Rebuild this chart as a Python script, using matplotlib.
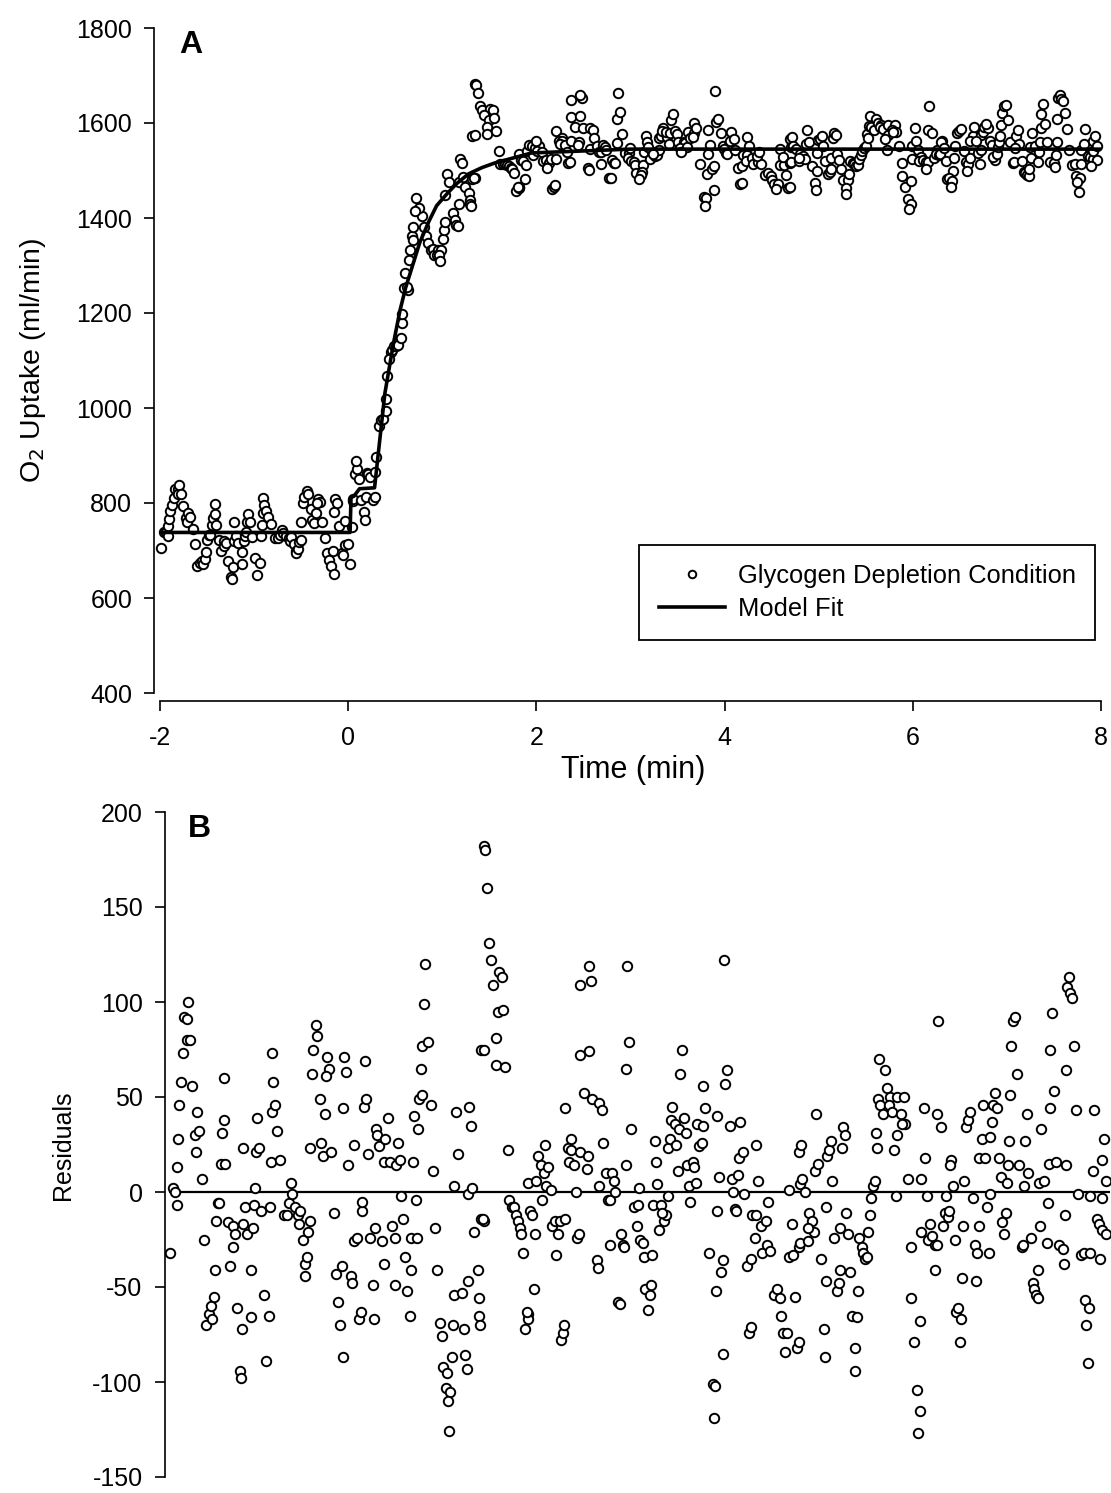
import numpy as np
import matplotlib
matplotlib.use("Agg")
import matplotlib.pyplot as plt

plt.rcParams['font.family'] = ['Liberation Sans', 'DejaVu Sans']
plt.rcParams['axes.unicode_minus'] = False

# model fit (time in min, VO2 in ml/min)
fit_time = [-2.0, 0.02, 0.03, 0.06, 0.12, 0.28, 0.35, 0.39, 0.48, 0.55, 0.61, 0.70,
            0.76, 0.86, 0.94, 1.05, 1.15, 1.28, 1.42, 1.56, 1.95, 3.0, 8.0]
fit_vo2 = [738, 738, 812, 814, 830, 832, 959, 1031, 1135, 1205, 1253, 1310,
           1348, 1394, 1426, 1451, 1472, 1493, 1506, 1516, 1537, 1545, 1545]

# breath-by-breath residuals (observed - fit)
breath_time = [
    -1.99, -1.96, -1.94, -1.92, -1.91, -1.90, -1.89, -1.87, -1.85, -1.84, -1.81, -1.81,
    -1.80, -1.78, -1.76, -1.72, -1.71, -1.70, -1.68, -1.65, -1.63, -1.61, -1.58, -1.55,
    -1.54, -1.52, -1.51, -1.50, -1.48, -1.47, -1.45, -1.44, -1.42, -1.42, -1.40, -1.37,
    -1.35, -1.32, -1.32, -1.30, -1.28, -1.25, -1.23, -1.22, -1.21, -1.21, -1.19, -1.17,
    -1.13, -1.13, -1.11, -1.10, -1.09, -1.08, -1.07, -1.04, -1.02, -0.99, -0.97, -0.94,
    -0.93, -0.92, -0.91, -0.89, -0.91, -0.87, -0.85, -0.825, -0.78, -0.75, -0.73, -0.70,
    -0.69, -0.66, -0.63, -0.62, -0.61, -0.58, -0.56, -0.55, -0.53, -0.52, -0.50, -0.50,
    -0.48, -0.47, -0.44, -0.43, -0.40,
    -0.383, -0.36, -0.28, -0.344, -0.32, -0.30, -0.33, -0.25, -0.23, -0.16, -0.20, -0.18,
    -0.15, -0.15, -0.14, -0.12, -0.10, -0.07, -0.05, -0.03, -0.03, 0.00, 0.02, 0.04,
    0.05, 0.05, 0.07, 0.09, 0.08, 0.12, 0.14, 0.19, 0.17, 0.18, 0.20, 0.21,
    0.23, 0.26, 0.29, 0.30, 0.33, 0.29, 0.35, 0.41, 0.45, 0.37, 0.40, 0.40,
    0.43, 0.47, 0.49, 0.51, 0.53, 0.56, 0.57, 0.57, 0.64, 0.59, 0.60, 0.62,
    0.65, 0.68, 0.66, 0.69, 0.78, 0.69, 0.75, 0.71, 0.72, 0.81, 0.83, 0.85,
    0.88, 0.90, 0.91, 0.95, 0.94, 0.99, 0.97, 0.98, 1.01, 1.02, 1.03, 1.05,
    1.07, 1.03, 1.11, 1.13, 1.15, 1.17, 1.18, 1.18, 1.22, 1.19, 1.21, 1.24,
    1.28, 1.29, 1.29, 1.32, 1.32,
    1.35, 1.36, 1.38, 1.40, 1.42, 1.51, 1.54, 1.44, 1.50, 1.55, 1.47, 1.35,
    1.48, 1.57, 1.35, 1.34, 1.31, 1.60, 1.61, 1.65, 1.67, 1.69, 1.71, 1.73,
    1.74, 1.76, 1.78, 1.81, 1.82, 1.80, 1.82, 1.84, 1.86, 1.88, 1.89, 1.90,
    1.92, 1.95, 1.99, 2.03, 2.00, 1.96, 2.01, 2.06, 2.07, 2.10, 2.13, 2.15,
    2.21, 2.11, 2.17, 2.19, 2.20, 2.21, 2.27, 2.24, 2.27, 2.25, 2.30, 2.32,
    2.34, 2.36, 2.37, 2.48, 2.46, 2.37, 2.46, 2.41, 2.37, 2.45, 2.44, 2.50,
    2.57, 2.60, 2.55, 2.56, 2.57, 2.61, 2.64, 2.71, 2.67, 2.69, 2.69, 2.73,
    2.74, 2.77, 2.79, 2.80, 2.82, 2.84, 2.86, 2.86, 2.87, 2.89, 2.91, 2.94,
    2.98, 2.99, 2.97, 3.00,
    3.04, 3.05, 3.13, 3.06, 3.12, 3.11, 3.09, 3.14, 3.23, 3.16, 3.18, 3.19,
    3.21, 3.26, 3.28, 3.30, 3.24, 3.30, 3.32, 3.39, 3.35, 3.33, 3.38, 3.42,
    3.47, 3.49, 3.41, 3.43, 3.45, 3.51, 3.57, 3.58, 3.53, 3.60, 3.54, 3.61,
    3.67, 3.63, 3.66, 3.68, 3.70, 3.74, 3.78, 3.80, 3.79, 3.81, 3.82, 3.82,
    3.84, 3.87, 3.89, 3.89, 3.90, 3.91, 3.93, 3.96, 4.07, 3.98, 4.05, 3.99,
    4.02, 4.03, 4.06, 4.10, 4.11, 4.14, 4.19, 4.16, 4.19, 4.20, 4.24, 4.23,
    4.24, 4.26, 4.29, 4.30, 4.35, 4.39, 4.34, 4.37, 4.43, 4.46, 4.49, 4.50,
    4.53, 4.57, 4.55, 4.59, 4.63, 4.59, 4.62, 4.65, 4.67, 4.69, 4.69, 4.69,
    4.71,
    4.72, 4.73, 4.71, 4.79, 4.76, 4.80, 4.83, 4.85, 4.79, 4.87, 4.90, 4.93,
    4.96, 4.97, 4.98, 4.98, 4.99, 5.01, 5.03, 5.05, 5.07, 5.13, 5.10, 5.12,
    5.13, 5.24, 5.15, 5.16, 5.18, 5.19, 5.22, 4.88, 5.26, 5.31, 5.29, 5.29,
    5.32, 5.33, 5.36, 5.38, 5.40, 5.42, 5.43, 5.45, 5.46, 5.48, 5.50, 5.51,
    5.52, 5.53, 5.55, 5.61, 5.56, 5.59, 5.63, 5.66, 5.65, 5.68, 5.74, 5.81,
    5.78, 5.82, 5.74, 5.70, 5.73, 5.79, 5.85, 5.88, 5.89, 5.92, 5.95, 5.98,
    5.96, 5.98, 5.99, 6.02, 6.03, 6.06, 5.99, 6.09, 6.07, 6.11, 6.14, 6.16,
    6.14, 6.17, 6.16, 6.20, 6.23, 6.26, 6.25, 6.28, 6.29, 6.31, 6.30, 6.33,
    6.35, 6.36,
    6.45, 6.47, 6.49, 6.51, 6.44, 6.43, 6.39, 6.42, 6.41, 6.54, 6.57, 6.59,
    6.71, 6.58, 6.61, 6.64, 6.73, 6.61, 6.67, 6.65, 6.75, 6.76, 6.80, 6.78,
    6.69, 6.73, 6.82, 6.84, 6.87, 6.85, 6.90, 6.91, 6.92, 6.93, 6.94, 6.95,
    6.97, 6.99, 7.01, 7.03, 7.06, 7.08, 7.10, 7.12, 7.13, 7.16, 7.09, 7.18,
    7.19, 7.21, 7.23, 7.24, 7.26, 7.25, 7.30, 7.27, 7.33, 7.34, 7.35, 7.43,
    7.53, 7.36, 7.36, 7.38, 7.41, 7.46, 7.50, 7.51, 7.52, 7.53, 7.54, 7.56,
    7.57, 7.60, 7.62, 7.64, 7.66, 7.69, 7.72, 7.79, 7.73, 7.78, 7.74, 7.77,
    7.79, 7.82, 7.83, 7.86, 7.88, 7.91, 7.96, 7.89, 7.91, 7.92, 7.94, 7.96,
]
residual = [
    -32, 2, 0, -7, 13, 28, 46, 58, 73, 92, 91, 80,
    100, 80, 56, 30, 21, 42, 32, 7, -25, -70, -64, -60,
    -67, -55, -41, -15, -6, -6, 15, 31, 38, 60, 15, -16,
    -39, -18, -29, -22, -61, -94, -98, -72, 23, -17, -8, -22,
    -66, -41, -19, -7, 2, 21, 39, 23, -10, -54, -89, -65,
    -8, 16, 73, 58, 42, 46, 32, 17, -12, -12, -6, 5,
    -1, -8, -12, -17, -10, -25, -38, -44, -34, -21, -15, 23,
    62, 75, 88, 82, 49,
    26, 19, 21, 41, 71, 65, 61, -11, -43, -39, -58, -70,
    -87, 44, 71, 63, 14, -44, -48, 25, -26, -24, -67, -63,
    -10, -5, 45, 49, 69, 20, -24, -19, -49, -67, 33, 30,
    24, -26, -38, 28, 39, 16, 16, 14, 17, -18, -49, -24,
    26, -2, -14, -34, -52, -65, -41, -24, -24, 16, 40, -4,
    33, 65, 49, 51, 46, 77, 79, 99, 120, 11, -19, -41,
    -69, -76, -92, -95, -103, -105, -110, -126, -87, -70, 3, 42,
    20, -54, -53, -72, -86, -93, -47, -1, 2, 45, 35, -21,
    -41, -56, -65, 75, -14,
    182, 180, 160, 131, 122, 116, 113, 109, 95, 96, 81, 75,
    67, 66, -15, -14, -70, 22, -4, -8, -8, -12, -15, -19,
    -22, -32, -72, -64, -67, -63, 5, -10, -12, -51, -22, 6,
    19, 14, 10, 13, 25, -4, 3, 1, -18, -15, -22, -15,
    -14, -33, -78, -74, -70, 44, 28, 23, 22, 16, 14, 0,
    -24, -22, 109, 111, 119, 72, 74, 52, 21, 19, 12, 49,
    47, 43, -36, -40, 3, 26, 10, 10, -4, -4, -28, 6,
    0, -58, -59, -22, -28, -29, 14, 65, 119, 79, 33, -8,
    -7, 2, -18, -25,
    -27, -34, -33, -51, -49, -54, -62, -7, -7, 27, 16, 4,
    -20, -15, -12, -2, -11, 23, 28, 25, 45, 38, 36, 33,
    39, 31, 11, 62, 75, 14, 16, 13, 3, 5, -5, 36,
    35, 24, 26, 56, 44, -32, -101, -102, -119, -52, 40, -10,
    8, -42, -36, -85, 122, 57, 64, 35, 37, 7, 9, 0,
    -9, -10, 18, 21, -1, -39, -35, -74, -71, -12, -12, -24,
    25, 6, -18, -32, -28, -31, -15, -5, -54, -51, -56, -65,
    -74, -74, -84, -34, -33, 1, -17, -55, -82, -79, 21, -29,
    4,
    25, 7, -27, -26, 0, -11, -15, -21, -19, 11, 15, -35,
    -72, -87, -8, -47, 19, 22, 27, 6, -24, -19, -52, -48,
    -41, -42, 23, 34, 30, -11, -22, 41, -65, -66, -82, -94,
    -52, -24, -29, -32, -35, -34, -21, -12, -3, 3, 6, 31,
    23, 49, 70, 64, 46, 41, 55, 50, 46, 42, 50, 50,
    41, 36, 30, 22, -2, 36, 7, -29, -56, -79, -104, -115,
    -127, -68, 7, 44, 18, -2, -21, -17, -25, -23, -28, -28,
    -41, 90, 41, 34, -18, -2, -11, -13, -10, 17, 14, 3,
    -25, -63,
    6, 34, 38, 42, -18, -45, -61, -67, -79, -3, -28, -32,
    -32, -47, -18, 28, 29, 18, 18, 46, 37, 46, 44, 52,
    -8, -1, 18, 8, -22, -16, -11, 5, 14, 27, 51, 77,
    90, 92, 62, 14, -29, -28, 27, 41, 10, -24, 3, -48,
    -51, -54, -56, -41, -18, 5, 6, 33, -27, -6, 15, 16,
    14, 44, 75, 94, 53, -28, -30, -38, -12, 64, 108, 113,
    105, 102, 77, 43, -1, -33, -32, -32, -57, -61, -70, -90,
    -2, 11, 43, -14, -17, -20, -22, -35, -3, 17, 28, 6,
]

breath_time = np.array(breath_time)
residual = np.array(residual)
# observed uptake = model value at each breath + residual
o2_uptake = np.interp(breath_time, fit_time, fit_vo2) + residual

W, H = 1111, 1493
fig = plt.figure(figsize=(W / 100, H / 100), dpi=100)

marker_kw = dict(ls='none', marker='o', ms=6.8, mfc='white', mec='black', mew=1.4,
                 clip_on=False)
tick_kw = dict(labelsize=18, length=7, width=1.2, color='black')

# --- panel A ---
ax1 = fig.add_axes([160 / W, 1 - 693 / H, 941 / W, 665 / H])
ax1.plot(breath_time, o2_uptake, zorder=2, label='Glycogen Depletion Condition', **marker_kw)
ax1.plot(fit_time, fit_vo2, color='black', lw=2.6, zorder=3, label='Model Fit')
ax1.set_xlim(-2, 8)
ax1.set_ylim(400, 1800)
ax1.set_xticks([-2, 0, 2, 4, 6, 8])
ax1.set_yticks(range(400, 1801, 200))
for s in ['top', 'right']:
    ax1.spines[s].set_visible(False)
ax1.spines['left'].set_position(('outward', 4))
ax1.spines['bottom'].set_position(('outward', 6))
for s in ['left', 'bottom']:
    ax1.spines[s].set_linewidth(1.2)
ax1.tick_params(axis='y', pad=9, **tick_kw)
ax1.tick_params(axis='x', pad=11, **tick_kw)
ax1.set_xlabel('Time (min)', fontsize=22)
ax1.xaxis.set_label_coords(0.503, -0.093)
ax1.set_ylabel('O$_2$ Uptake (ml/min)', fontsize=20.5)
ax1.yaxis.set_label_coords(-0.119, 0.5)
ax1.text(0.033, 0.974, 'A', transform=ax1.transAxes, fontsize=23, fontweight='bold',
         ha='center', va='center')

leg = ax1.legend(loc='upper right', bbox_to_anchor=(0.9936, 0.2226), borderaxespad=0,
                 fontsize=18.4, frameon=True, fancybox=False, framealpha=1,
                 edgecolor='black', handlelength=2.6, handletextpad=0.5,
                 labelspacing=0.35, borderpad=0.75, numpoints=1, markerscale=0.8)
leg.get_frame().set_linewidth(1.3)

# --- panel B ---
ax2 = fig.add_axes([169 / W, 1 - 1477 / H, 941 / W, 665 / H])
ax2.axhline(0, color='black', lw=1.6, zorder=1)
ax2.plot(breath_time, residual, zorder=2, **marker_kw)
ax2.set_xlim(-2, 8)
ax2.set_ylim(-150, 200)
ax2.set_yticks(range(-150, 201, 50))
for s in ['top', 'right', 'bottom']:
    ax2.spines[s].set_visible(False)
ax2.spines['left'].set_position(('outward', 3))
ax2.spines['left'].set_linewidth(1.2)
ax2.set_xticks([])
ax2.tick_params(axis='y', pad=9, **tick_kw)
ax2.set_ylabel('Residuals', fontsize=18)
ax2.yaxis.set_label_coords(-0.1, 0.499)
ax2.text(0.032, 0.974, 'B', transform=ax2.transAxes, fontsize=23, fontweight='bold',
         ha='center', va='center')

fig.savefig('out.png', dpi=100)
